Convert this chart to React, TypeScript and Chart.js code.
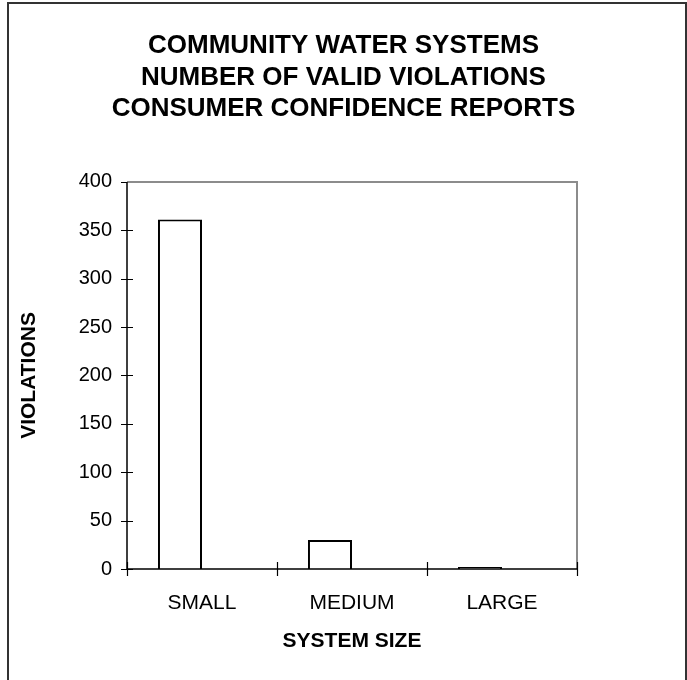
import React, { useEffect, useRef } from 'react';
import { Chart, registerables } from 'chart.js';

Chart.register(...registerables);

const titleLines = ['COMMUNITY WATER SYSTEMS', 'NUMBER OF VALID VIOLATIONS', 'CONSUMER CONFIDENCE REPORTS'];
const categories = ['SMALL', 'MEDIUM', 'LARGE'];
const violations = [361, 30, 2];
const emptySeries = [null, null, null];
const yMin = 0;
const yMax = 400;
const yStep = 50;
const xAxisTitle = 'SYSTEM SIZE';
const yAxisTitle = 'VIOLATIONS';

const FONT = "'Liberation Sans', Arial, Helvetica, sans-serif";

const framePlugin = {
  id: 'frame',
  afterLayout(chart: any) {
    // centre the chart title over the whole canvas, not just the plot area
    const t = chart.titleBlock;
    if (t) {
      t.left = 0;
      t.right = chart.width;
      t.width = chart.width;
    }
  },
  beforeDraw(chart: any) {
    const { ctx, width, height } = chart;
    ctx.save();
    ctx.fillStyle = '#ffffff';
    ctx.fillRect(0, 0, width, height);
    ctx.strokeStyle = '#333333';
    ctx.lineWidth = 2;
    ctx.strokeRect(8, 3, 678, height + 20);
    ctx.restore();
  },
  afterDatasetsDraw(chart: any) {
    const { ctx, chartArea } = chart;
    const { left, right, top, bottom } = chartArea;
    const xs = chart.scales.x;
    const ys = chart.scales.y;
    ctx.save();
    ctx.strokeStyle = '#8c8c8c';
    ctx.lineWidth = 2;
    ctx.beginPath();
    ctx.moveTo(left, top);
    ctx.lineTo(right, top);
    ctx.lineTo(right, bottom);
    ctx.stroke();
    ctx.strokeStyle = '#000000';
    ctx.lineWidth = 1.5;
    ctx.beginPath();
    ctx.moveTo(left, top);
    ctx.lineTo(left, bottom);
    ctx.lineTo(right, bottom);
    ctx.stroke();
    ctx.lineWidth = 1.2;
    ctx.beginPath();
    for (let v = yMin; v <= yMax; v += yStep) {
      const y = Math.round(ys.getPixelForValue(v)) + 0.5;
      ctx.moveTo(left - 6, y);
      ctx.lineTo(left + (v === yMax ? 0 : 6), y);
    }
    for (let i = 0; i <= categories.length; i++) {
      let x: number;
      if (i === 0) x = left;
      else if (i === categories.length) x = right;
      else x = (xs.getPixelForValue(i - 1) + xs.getPixelForValue(i)) / 2;
      x = Math.round(x) + 0.5;
      ctx.moveTo(x, bottom - 7);
      ctx.lineTo(x, bottom + 7);
    }
    ctx.stroke();
    ctx.restore();
  },
};

export default function App() {
  const canvasRef = useRef<HTMLCanvasElement | null>(null);

  useEffect(() => {
    const canvas = canvasRef.current;
    if (!canvas) return;
    const chart = new Chart(canvas, {
      type: 'bar',
      data: {
        labels: categories,
        datasets: [
          {
            label: 'Violations',
            data: violations,
            backgroundColor: '#ffffff',
            borderColor: '#000000',
            borderWidth: 2,
            categoryPercentage: 0.587,
            barPercentage: 1.0,
          },
          {
            label: '',
            data: emptySeries,
            backgroundColor: '#ffffff',
            borderColor: '#000000',
            borderWidth: 0,
            categoryPercentage: 0.587,
            barPercentage: 1.0,
          },
        ],
      },
      options: {
        responsive: false,
        animation: false,
        events: [],
        layout: { padding: { left: 0, right: 110, top: 0, bottom: 0 } },
        plugins: {
          legend: { display: false },
          tooltip: { enabled: false },
          title: {
            display: true,
            text: titleLines,
            color: '#000000',
            font: { family: FONT, size: 26, weight: 'bold', lineHeight: 1.21 },
            padding: { top: 30.5, bottom: 57 },
          },
        },
        scales: {
          x: {
            type: 'category',
            offset: true,
            grid: { display: false, drawTicks: false },
            border: { display: false },
            ticks: {
              color: '#000000',
              font: { family: FONT, size: 21 },
              padding: 22,
              maxRotation: 0,
            },
            title: {
              display: true,
              text: xAxisTitle,
              color: '#000000',
              font: { family: FONT, size: 21, weight: 'bold', lineHeight: 1.2 },
              padding: { top: 0, bottom: 26 },
            },
            afterFit(scale: any) {
              scale.height = 111;
            },
          },
          y: {
            min: yMin,
            max: yMax,
            grid: { display: false, drawTicks: false },
            border: { display: false },
            ticks: {
              stepSize: yStep,
              color: '#000000',
              font: { family: FONT, size: 20 },
              padding: 15,
            },
            title: {
              display: true,
              text: yAxisTitle,
              color: '#000000',
              font: { family: FONT, size: 21, weight: 'bold', lineHeight: 1.2 },
              padding: { top: 17, bottom: 0 },
            },
            afterFit(scale: any) {
              scale.width = 127;
            },
          },
        },
      },
      plugins: [framePlugin],
    });
    return () => chart.destroy();
  }, []);

  return (
    <div style={{ position: 'absolute', left: 0, top: 0, width: 687, height: 680, background: '#fff' }}>
      <canvas ref={canvasRef} width={687} height={680} style={{ display: 'block' }} />
    </div>
  );
}
